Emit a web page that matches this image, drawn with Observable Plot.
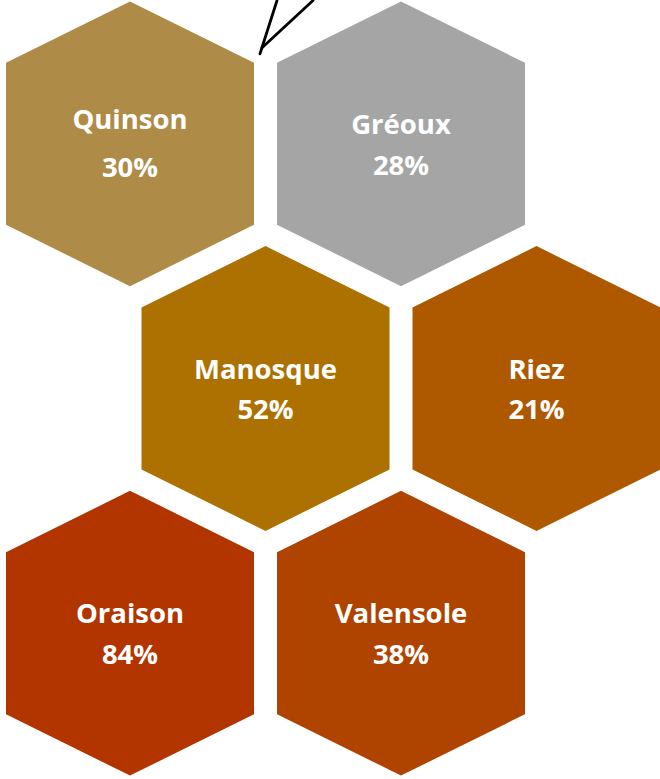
<!DOCTYPE html>
<html>
<head>
<meta charset="utf-8">
<script src="https://cdn.jsdelivr.net/npm/d3@7"></script>
<script src="https://cdn.jsdelivr.net/npm/@observablehq/plot@0.6"></script>
<style>
  html, body { margin: 0; padding: 0; background: #fff; }
  #chart svg { display: block; }
</style>
</head>
<body>
<div id="chart"></div>
<script>
// ---- data ----
const towns = ["Quinson", "Gréoux", "Manosque", "Riez", "Oraison", "Valensole"];
const shares = [30, 28, 52, 21, 84, 38];
const colors = ["#AE8B46", "#A5A5A5", "#AC7100", "#AE5900", "#B23500", "#AF4400"];

// ---- honeycomb layout (column, row in the grid) ----
const gridCol = [0, 1, 0, 1, 0, 1];
const gridRow = [0, 0, 1, 1, 2, 2];

const W = 660, H = 779;
const origin = {x: 129.5, y: 143.3};
const stepX = 271, stepY = 244.7, rowShift = 135.5;
const halfW = 124, halfH = 142.4, shoulder = 81;

const cells = towns.map((name, i) => ({
  name,
  value: shares[i],
  color: colors[i],
  cx: origin.x + stepX * gridCol[i] + (gridRow[i] % 2) * rowShift,
  cy: origin.y + stepY * gridRow[i],
  nameDy: i === 0 ? -15.3 : -9.8,
  valueDy: i === 0 ? 33.4 : 30.8
}));

const hexOffsets = [
  [0, -halfH], [halfW, -shoulder], [halfW, shoulder],
  [0, halfH], [-halfW, shoulder], [-halfW, -shoulder]
];
const hexVertices = cells.flatMap(c =>
  hexOffsets.map(([dx, dy]) => ({name: c.name, color: c.color, x: c.cx + dx, y: c.cy + dy}))
);

// callout pointer coming from above, anchored near Quinson's upper-right corner
const q = cells[0];
const tip = {x: q.cx + halfW + 6, y: q.cy - shoulder - 9};
const pointer = [
  {seg: "a", x: tip.x + 17, y: 0}, {seg: "a", x: tip.x, y: tip.y},
  {seg: "b", x: tip.x + 53, y: 0}, {seg: "b", x: tip.x + 2, y: tip.y - 6}
];

const font = "'Open Sans', 'Noto Sans', sans-serif";

const chart = Plot.plot({
  width: W,
  height: H,
  margin: 0,
  x: {domain: [0, W], range: [0, W], axis: null},
  y: {domain: [0, H], range: [0, H], axis: null},
  color: {type: "identity"},
  marks: [
    Plot.line(hexVertices, {x: "x", y: "y", z: "name", fill: "color", stroke: null, curve: "linear-closed"}),
    Plot.line(pointer, {x: "x", y: "y", z: "seg", stroke: "#000", strokeWidth: 2.8}),
    Plot.text(cells, {
      x: "cx", y: d => d.cy + d.nameDy, text: "name",
      fill: "#fff", fontSize: 27.5, fontWeight: "bold", fontFamily: font,
      textAnchor: "middle", lineAnchor: "bottom"
    }),
    Plot.text(cells, {
      x: "cx", y: d => d.cy + d.valueDy, text: d => d.value + "%",
      fill: "#fff", fontSize: 27.5, fontWeight: "bold", fontFamily: font,
      textAnchor: "middle", lineAnchor: "bottom"
    })
  ]
});
document.getElementById("chart").appendChild(chart);
</script>
</body>
</html>
